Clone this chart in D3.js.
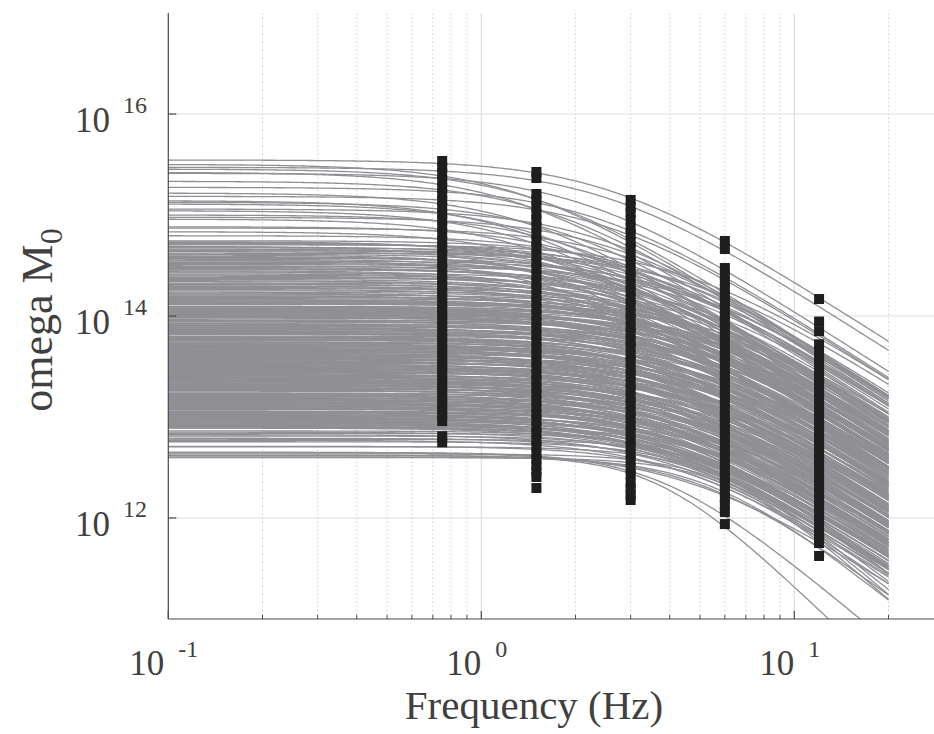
<!DOCTYPE html>
<html><head><meta charset="utf-8">
<script src="https://cdn.jsdelivr.net/npm/d3@7"></script>
<style>body{margin:0;background:#fff} svg{display:block} text{font-family:"Liberation Serif","Tinos","DejaVu Serif",serif}</style>
</head><body><svg id="c" width="934" height="734"></svg>
<script>
// ---- Spectral fits (Brune omega-square): plateau level log10(Omega0) and corner frequency (Hz)
const plateauLog = [
15.545,15.502,15.472,15.455,15.423,15.413,15.334,15.274,15.218,15.185,15.142,15.126,15.109,15.059,15.043,15.0,14.977,14.96,
14.884,14.871,14.835,14.795,14.736,14.72,14.713,14.69,14.675,14.663,14.647,14.604,14.59,14.581,14.554,14.532,14.51,14.482,
14.47,14.458,14.439,14.416,14.383,14.35,14.34,14.31,14.3,14.284,14.25,14.218,14.2,14.185,
14.745,14.728,14.705,14.683,14.655,14.638,14.622,14.612,14.572,14.563,14.545,14.522,14.498,14.49,14.465,14.448,14.428,14.405,
14.395,14.372,14.362,14.325,14.318,14.292,14.272,14.262,14.236,14.228,14.209,14.192,
14.158,14.149,14.139,14.131,14.122,14.116,14.098,14.089,14.081,14.070,14.063,14.052,14.041,14.035,14.024,14.013,14.006,13.996,
13.988,13.979,13.958,13.951,13.940,13.919,13.911,13.900,13.893,13.882,13.876,13.864,13.856,13.847,13.838,13.829,13.821,13.801,
13.790,13.784,13.773,13.767,13.758,13.741,13.732,13.726,13.713,13.706,13.697,13.688,13.679,13.672,13.660,13.652,13.645,13.633,
13.627,13.616,13.609,13.598,13.592,13.580,13.571,13.565,13.552,13.546,13.537,13.526,13.519,13.508,13.502,13.489,13.483,13.474,
13.463,13.456,13.447,13.436,13.429,13.418,13.411,13.399,13.393,13.382,13.375,13.364,13.357,13.346,13.339,13.330,13.319,13.312,
13.301,13.294,13.285,13.274,13.268,13.256,13.239,13.231,13.219,13.213,13.202,13.194,13.183,13.176,13.165,13.158,13.146,13.140,
13.129,13.122,13.110,13.103,13.093,13.086,13.077,13.060,13.053,13.041,13.034,13.023,13.016,13.005,12.998,12.987,12.980,12.969,
12.962,12.951,12.944,12.933,12.926,12.915,12.908,12.898,12.890,
14.172,14.163,14.143,14.127,14.093,14.075,14.057,14.046,14.029,14.019,14.001,13.984,13.963,13.945,13.925,13.906,13.887,13.870,
13.852,13.834,13.816,13.795,13.779,13.762,13.745,13.720,13.702,13.684,13.666,13.648,13.638,13.621,13.603,13.586,13.575,13.558,
13.541,13.531,13.513,13.496,13.478,13.468,13.451,13.441,13.423,13.405,13.388,13.369,13.352,13.334,13.324,13.306,13.289,13.279,
13.262,13.235,13.225,13.207,13.189,13.170,13.152,13.134,13.116,13.098,13.081,13.056,13.046,13.029,13.011,12.993,12.975,12.957,
12.939,12.921,12.903,12.894];
const cornerHz = [
2.55,1.35,2.5,1.5,1.3,2.1,1.6,2.3,1.4,2.5,1.3,1.8,1.5,2.4,1.4,1.9,2.6,1.45,
2.2,3.0,1.7,2.8,2.0,2.7,3.2,1.6,3.9,2.5,3.5,2.2,2.4,2.9,1.8,3.3,4.1,2.6,
2.9,3.8,2.1,3.1,4.0,2.7,3.6,3.7,2.5,3.0,4.2,3.4,3.2,4.5,
3.4,2.3,4.4,2.8,3.7,2.6,4.6,3.0,3.9,2.5,4.3,3.2,2.7,4.7,3.5,2.4,4.1,3.3,
2.8,4.8,3.1,4.4,2.9,3.8,4.6,3.2,4.0,2.8,4.9,3.6,
4.1,3.5,5.2,4.6,3.8,5.7,4.3,3.4,4.9,5.5,3.9,4.4,3.6,5.1,4.7,3.3,5.8,4.0,
3.7,4.8,5.3,3.5,4.2,5.0,3.8,4.5,5.6,3.6,4.1,4.9,3.4,5.4,4.3,3.9,4.7,5.9,
3.7,4.4,5.1,3.5,4.6,4.0,5.5,3.8,4.8,3.3,5.2,4.2,3.6,5.7,4.5,3.9,4.9,3.4,
5.3,4.1,3.7,4.7,5.8,3.5,4.3,5.0,3.8,4.6,5.4,3.6,4.2,5.1,3.9,4.8,3.4,5.6,
4.4,3.7,4.9,5.2,3.5,4.0,5.5,3.8,4.7,4.3,3.6,5.0,4.1,3.9,5.7,4.5,3.4,4.8,
5.3,3.7,4.2,5.9,3.5,4.6,4.0,5.1,3.8,4.4,5.4,3.6,4.9,4.1,3.9,5.6,4.3,3.5,
4.7,5.2,3.7,4.5,5.0,3.8,4.2,4.8,3.6,5.3,4.0,4.6,3.9,5.5,4.3,3.7,4.9,4.1,
5.1,3.8,4.4,4.7,3.9,5.0,4.2,4.5,3.9,
5.0,3.6,4.4,5.9,5.0,3.8,5.2,4.0,3.5,5.4,4.5,3.9,4.6,5.7,3.9,4.8,3.5,5.2,
4.6,3.7,5.0,4.2,3.6,5.4,4.1,3.5,4.6,5.6,3.8,4.4,5.9,3.6,4.8,4.0,5.5,3.7,
4.5,5.8,4.0,3.5,4.6,5.3,3.9,4.8,3.6,5.2,4.0,3.5,4.7,5.5,3.8,4.3,3.6,5.1,
4.5,5.6,3.6,4.3,5.3,4.0,3.7,5.0,4.6,3.9,5.5,4.4,5.8,3.6,4.9,4.2,5.3,3.8,
4.5,5.6,4.0,4.7];
// low-level spectra with steeper high-frequency fall-off
const steepPlateauLog = [12.862,12.85,12.838,12.825,12.812,12.79,12.78,12.77,12.755,12.71,12.705,12.65,12.635,12.62,12.605,12.598,12.62,12.65];
const steepCornerHz   = [5.0,4.4,5.6,4.1,5.2,4.7,6.0,4.3,5.4,4.9,5.8,4.6,6.2,5.1,5.5,6.4,3.74,3.8];
const steepFalloff    = [2.2,2.0,2.4,2.0,2.3,2.1,2.5,2.0,2.4,2.2,2.6,2.0,2.7,2.3,2.5,2.8,3.0,2.6];

// ---- Observed amplitudes (log10) at the five analysis frequencies
const markerFreqs = [0.75, 1.5, 3, 6, 12];
const obs075 = [15.535,15.47,15.41,15.34,15.27,15.21,15.14,15.08,15.01,14.95,14.88,14.81,14.74,14.67,14.61,14.53,14.47,14.41,14.35,14.3,
  14.23,14.18,14.12,14.07,14.01,13.96,13.9,13.84,13.78,13.73,13.67,13.62,13.56,13.51,13.46,13.4,13.35,13.29,13.24,13.18,13.13,13.07,13.02,12.96,12.81,12.75];
const obs15 = [15.426,15.366,15.208,15.15,15.08,15.01,14.95,14.88,14.81,14.74,14.68,14.6,14.53,14.47,14.4,14.33,14.27,14.2,14.14,14.07,
  14.01,13.94,13.88,13.81,13.75,13.68,13.62,13.55,13.49,13.42,13.36,13.29,13.23,13.16,13.1,13.03,12.97,12.9,12.84,12.77,12.71,12.64,12.58,12.52,12.46,12.406,12.297];
const obs3 = [15.149,15.08,15.02,14.95,14.87,14.81,14.73,14.67,14.59,14.53,14.45,14.39,14.31,14.25,14.17,14.11,14.03,13.97,13.89,13.83,
  13.75,13.69,13.61,13.55,13.47,13.41,13.33,13.27,13.19,13.13,13.05,12.99,12.91,12.85,12.77,12.71,12.63,12.57,12.49,12.43,12.35,12.29,12.23,12.178];
const obs6 = [14.743,14.663,14.475,14.41,14.34,14.27,14.2,14.14,14.07,14.0,13.94,13.87,13.8,13.74,13.67,13.6,13.54,13.47,13.4,13.34,
  13.27,13.2,13.14,13.07,13.0,12.94,12.87,12.8,12.74,12.67,12.6,12.54,12.47,12.4,12.34,12.27,12.2,12.13,12.059,11.94];
const obs12 = [14.168,13.945,13.85,13.72,13.65,13.58,13.52,13.45,13.38,13.32,13.25,13.18,13.12,13.05,12.98,12.92,12.85,12.78,12.72,12.65,
  12.58,12.52,12.45,12.38,12.32,12.25,12.18,12.12,12.05,11.98,11.92,11.85,11.8,11.752,11.624];
const observed = [obs075, obs15, obs3, obs6, obs12];

// ---- Axes
const xTicks = [0.1, 1, 10], xTickExp = ["-1", "0", "1"];
const yTicks = [1e12, 1e14, 1e16], yTickExp = ["12", "14", "16"];
const xLabel = "Frequency (Hz)";
const yLabelMain = "omega M", yLabelSub = "0";

const svg = d3.select("#c");
const x = d3.scaleLog().domain([0.1, 30]).range([168.3, 168.3 + 313 * Math.log10(300)]);
const y = d3.scaleLog().domain([1e11, 1e17]).range([619, 13]);
const X0 = x.range()[0], X1 = x.range()[1], Y0 = y.range()[0], Y1 = y.range()[1];

const txt = "#404040";

// grid
const minorX = [];
[0.1, 1, 10].forEach(d => { for (let k = 2; k <= 9; k++) if (k * d <= 30) minorX.push(k * d); });
svg.append("g").selectAll("line").data(minorX).join("line")
  .attr("x1", d => x(d)).attr("x2", d => x(d)).attr("y1", Y0).attr("y2", Y1)
  .attr("stroke", "#c4c4c8").attr("stroke-width", 1).attr("stroke-dasharray", "1.2,2.8");
svg.append("g").selectAll("line").data([1, 10]).join("line")
  .attr("x1", d => x(d)).attr("x2", d => x(d)).attr("y1", Y0).attr("y2", Y1)
  .attr("stroke", "#dedee2").attr("stroke-width", 1.2);
svg.append("g").selectAll("line").data(yTicks).join("line")
  .attr("x1", X0).attr("x2", X1).attr("y1", d => y(d)).attr("y2", d => y(d))
  .attr("stroke", "#dedee2").attr("stroke-width", 1.2);

// curves
const fs = d3.range(0, 241).map(i => 0.1 * Math.pow(200, i / 240));
const line = d3.line().x(d => x(d[0])).y(d => y(d[1]));
const curves = [];
plateauLog.forEach((L, i) => curves.push(fs.map(f => [f, Math.pow(10, L) / (1 + Math.pow(f / cornerHz[i], 2))])));
steepPlateauLog.forEach((L, i) => curves.push(fs.map(f => [f, Math.pow(10, L) / (1 + Math.pow(f / steepCornerHz[i], steepFalloff[i]))])));
svg.append("clipPath").attr("id", "clipP").append("rect").attr("x", X0).attr("y", Y1).attr("width", X1 - X0).attr("height", Y0 - Y1);
svg.append("g").attr("clip-path", "url(#clipP)").selectAll("path").data(curves).join("path")
  .attr("d", line).attr("fill", "none").attr("stroke", "#8f8f94").attr("stroke-width", 1.3);

// observed markers
const pts = [];
observed.forEach((arr, j) => arr.forEach(v => pts.push([markerFreqs[j], Math.pow(10, v)])));
svg.append("g").selectAll("rect").data(pts).join("rect")
  .attr("x", d => x(d[0]) - 5).attr("y", d => y(d[1]) - 5).attr("width", 10).attr("height", 10)
  .attr("fill", "#1e1e1e");

// axes lines
svg.append("line").attr("x1", X0).attr("x2", X0).attr("y1", Y0).attr("y2", Y1).attr("stroke", "#4a4a4a").attr("stroke-width", 1.2);
svg.append("line").attr("x1", X0).attr("x2", X1).attr("y1", Y0).attr("y2", Y0).attr("stroke", "#4a4a4a").attr("stroke-width", 1.2);
// ticks
svg.append("g").selectAll("line").data(xTicks).join("line")
  .attr("x1", d => x(d)).attr("x2", d => x(d)).attr("y1", Y0).attr("y2", Y0 - 8).attr("stroke", "#4a4a4a").attr("stroke-width", 1.2);
svg.append("g").selectAll("line").data(minorX).join("line")
  .attr("x1", d => x(d)).attr("x2", d => x(d)).attr("y1", Y0).attr("y2", Y0 - 4).attr("stroke", "#4a4a4a").attr("stroke-width", 1);
svg.append("g").selectAll("line").data(yTicks).join("line")
  .attr("x1", X0).attr("x2", X0 + 8).attr("y1", d => y(d)).attr("y2", d => y(d)).attr("stroke", "#4a4a4a").attr("stroke-width", 1.2);

// tick labels
function powLabel(g, exp) {
  const b = g.append("text").attr("font-size", 35).attr("fill", txt).text("10");
  const e = g.append("text").attr("font-size", 24).attr("fill", txt).text(exp);
  const wb = b.node().getComputedTextLength(), we = e.node().getComputedTextLength();
  return {b, e, wb, we};
}
xTicks.forEach((t, i) => {
  const g = svg.append("g");
  const {b, e, wb, we} = powLabel(g, xTickExp[i]);
  const gap = 14, total = wb + gap + we;
  const left = x(t) - 4.5 - total / 2;
  b.attr("x", left).attr("y", 675);
  e.attr("x", left + wb + gap).attr("y", 657);
});
yTicks.forEach((t, i) => {
  const g = svg.append("g");
  const {b, e, wb, we} = powLabel(g, yTickExp[i]);
  const right = 147, gap = 13;
  e.attr("x", right - we).attr("y", y(t) - 1.5);
  b.attr("x", right - we - gap - wb).attr("y", y(t) + 17.5);
});

// axis labels
svg.append("text").attr("x", 534).attr("y", 719).attr("text-anchor", "middle")
  .attr("font-size", 41).attr("fill", txt).text(xLabel);
const yl = svg.append("text").attr("transform", "translate(52,320) rotate(-90)").attr("text-anchor", "middle")
  .attr("font-size", 44).attr("fill", txt);
yl.append("tspan").text(yLabelMain);
yl.append("tspan").attr("dy", 10).attr("font-size", 32).text(yLabelSub);
</script></body></html>
